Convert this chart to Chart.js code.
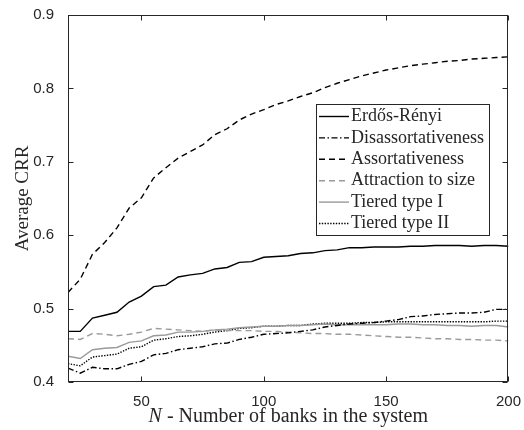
<!DOCTYPE html>
<html><head><meta charset="utf-8">
<script src="https://cdn.jsdelivr.net/npm/chart.js@4/dist/chart.umd.min.js"></script>
<style>html,body{margin:0;padding:0;background:#fff;}#wrap{width:524px;height:430px;}</style>
</head><body><div id="wrap"><canvas id="c" width="524" height="430"></canvas></div>
<script>
const nBanks = [20,25,30,35,40,45,50,55,60,65,70,75,80,85,90,95,100,105,110,115,120,125,130,135,140,145,150,155,160,165,170,175,180,185,190,195,200];
const seriesNames = ['Erdős-Rényi','Disassortativeness','Assortativeness','Attraction to size','Tiered type I','Tiered type II'];
const erdosRenyi = [0.469,0.469,0.487,0.491,0.495,0.509,0.517,0.530,0.532,0.543,0.546,0.548,0.554,0.556,0.563,0.564,0.570,0.571,0.572,0.575,0.576,0.579,0.580,0.583,0.583,0.584,0.584,0.584,0.585,0.585,0.586,0.586,0.586,0.585,0.586,0.586,0.585];
const disassortativeness = [0.419,0.412,0.420,0.418,0.418,0.424,0.428,0.437,0.439,0.444,0.446,0.448,0.452,0.453,0.458,0.461,0.465,0.466,0.467,0.469,0.471,0.475,0.477,0.479,0.480,0.481,0.483,0.485,0.489,0.490,0.492,0.493,0.494,0.494,0.495,0.499,0.499];
const assortativeness = [0.522,0.540,0.574,0.590,0.610,0.637,0.651,0.678,0.692,0.705,0.714,0.723,0.737,0.745,0.757,0.765,0.771,0.778,0.783,0.789,0.794,0.801,0.807,0.812,0.817,0.821,0.825,0.828,0.831,0.833,0.835,0.837,0.838,0.840,0.841,0.842,0.843];
const attractionToSize = [0.459,0.458,0.466,0.465,0.463,0.465,0.468,0.473,0.472,0.471,0.470,0.469,0.471,0.470,0.470,0.470,0.469,0.469,0.468,0.467,0.466,0.466,0.465,0.465,0.464,0.463,0.462,0.461,0.461,0.460,0.459,0.459,0.458,0.458,0.457,0.457,0.456];
const tieredTypeI = [0.435,0.432,0.444,0.446,0.447,0.454,0.456,0.463,0.464,0.468,0.468,0.469,0.471,0.472,0.474,0.475,0.476,0.476,0.477,0.477,0.478,0.479,0.478,0.478,0.478,0.478,0.478,0.479,0.479,0.478,0.478,0.477,0.477,0.476,0.477,0.477,0.475];
const tieredTypeII = [0.425,0.422,0.434,0.436,0.438,0.446,0.448,0.457,0.459,0.462,0.463,0.465,0.468,0.470,0.473,0.474,0.476,0.476,0.477,0.477,0.479,0.480,0.480,0.480,0.481,0.481,0.482,0.482,0.482,0.482,0.482,0.482,0.482,0.482,0.482,0.483,0.483];
const xTickValues = [50,100,150,200];
const yTickValues = [0.4,0.5,0.6,0.7,0.8,0.9];
const xTitleItalic = 'N';
const xTitleRest = ' - Number of banks in the system';
const yTitle = 'Average CRR';

const AX = '#262626';
const GRAY = '#9a9a9a';
const seriesValues = [erdosRenyi, disassortativeness, assortativeness, attractionToSize, tieredTypeI, tieredTypeII];
const styles = [
  {c:'#000', d:[], w:1.4},
  {c:'#000', d:[6,2.5,1.5,2.5], w:1.4},
  {c:'#000', d:[6,4], w:1.4},
  {c:GRAY, d:[6,4], w:1.4},
  {c:GRAY, d:[], w:1.4},
  {c:'#000', d:[1.4,1.4], w:1.4}
];
const datasets = seriesNames.map((name,i)=>({
  label:name,
  data:nBanks.map((n,j)=>({x:n,y:seriesValues[i][j]})),
  borderColor:styles[i].c, borderDash:styles[i].d, borderWidth:styles[i].w,
  pointRadius:0, tension:0, fill:false
}));

const framePlugin = {
  id:'frame',
  afterDraw(chart){
    const ctx = chart.ctx, a = chart.chartArea;
    const xs = chart.scales.x, ys = chart.scales.y;
    const L = Math.round(a.left)+0.5, R = Math.round(a.right)-0.5, T = Math.round(a.top)+0.5, B = Math.round(a.bottom)-0.5;
    ctx.save();
    ctx.strokeStyle = AX; ctx.lineWidth = 1; ctx.setLineDash([]);
    ctx.strokeRect(L, T, R-L, B-T);
    ctx.beginPath();
    xTickValues.forEach(v=>{
      const px = Math.round(xs.getPixelForValue(v))+0.5;
      ctx.moveTo(px,B); ctx.lineTo(px,B-5);
      ctx.moveTo(px,T); ctx.lineTo(px,T+5);
    });
    yTickValues.forEach(v=>{
      const py = Math.round(ys.getPixelForValue(v))+0.5;
      ctx.moveTo(L,py); ctx.lineTo(L+5,py);
      ctx.moveTo(R,py); ctx.lineTo(R-5,py);
    });
    ctx.stroke();
    // x title
    ctx.fillStyle = AX; ctx.textBaseline = 'alphabetic'; ctx.textAlign = 'left';
    const fi = 'italic 20px "Liberation Serif"', fn = '20px "Liberation Serif"';
    ctx.font = fi; const w1 = ctx.measureText(xTitleItalic).width;
    ctx.font = fn; const w2 = ctx.measureText(xTitleRest).width;
    const cx = (a.left + a.right)/2; let sx = cx - (w1+w2)/2;
    ctx.font = fi; ctx.fillText(xTitleItalic, sx, 422);
    ctx.font = fn; ctx.fillText(xTitleRest, sx+w1, 422);
    // legend
    const lx = 316, ly = 104, rowH = 21.4, lf = '18px "Liberation Serif"';
    ctx.font = lf;
    let maxW = 0; seriesNames.forEach(n=>{maxW = Math.max(maxW, ctx.measureText(n).width);});
    const bw = 35 + maxW + 5, bh = rowH*6 + 3;
    ctx.fillStyle = '#fff'; ctx.fillRect(lx, ly, bw, bh);
    ctx.strokeStyle = AX; ctx.lineWidth = 1; ctx.setLineDash([]);
    ctx.strokeRect(lx+0.5, ly+0.5, Math.round(bw), Math.round(bh));
    chart.data.datasets.forEach((ds,i)=>{
      const cy = ly + 12.5 + i*rowH;
      ctx.beginPath(); ctx.strokeStyle = ds.borderColor; ctx.lineWidth = ds.borderWidth; ctx.setLineDash(ds.borderDash);
      ctx.moveTo(lx+3, cy); ctx.lineTo(lx+33, cy); ctx.stroke();
      ctx.setLineDash([]);
      ctx.fillStyle = AX; ctx.textBaseline = 'middle'; ctx.font = lf;
      ctx.fillText(ds.label, lx+35, cy);
    });
    ctx.restore();
  }
};

new Chart(document.getElementById('c'), {
  type:'line',
  data:{datasets},
  options:{
    responsive:false, animation:false, devicePixelRatio:1,
    layout:{padding:{top:13,right:15,left:0,bottom:0}},
    plugins:{legend:{display:false}, tooltip:{enabled:false}},
    scales:{
      x:{type:'linear', min:20, max:200,
        grid:{display:false}, border:{display:false},
        ticks:{font:{family:'Liberation Sans',size:15}, color:AX, padding:3, maxRotation:0, autoSkip:false},
        afterBuildTicks:s=>{s.ticks = xTickValues.map(v=>({value:v}));},
        afterFit:s=>{s.height = 48;}
      },
      y:{type:'linear', min:0.4, max:0.9,
        grid:{display:false}, border:{display:false},
        ticks:{font:{family:'Liberation Sans',size:15}, color:AX, padding:6, callback:v=>v.toFixed(1)},
        afterBuildTicks:s=>{s.ticks = yTickValues.map(v=>({value:v}));},
        afterFit:s=>{s.width = 68;},
        title:{display:true, text:yTitle, font:{family:'Liberation Serif', size:19}, color:AX, padding:{top:12,bottom:0}}
      }
    }
  },
  plugins:[framePlugin]
});
</script>
</body></html>
